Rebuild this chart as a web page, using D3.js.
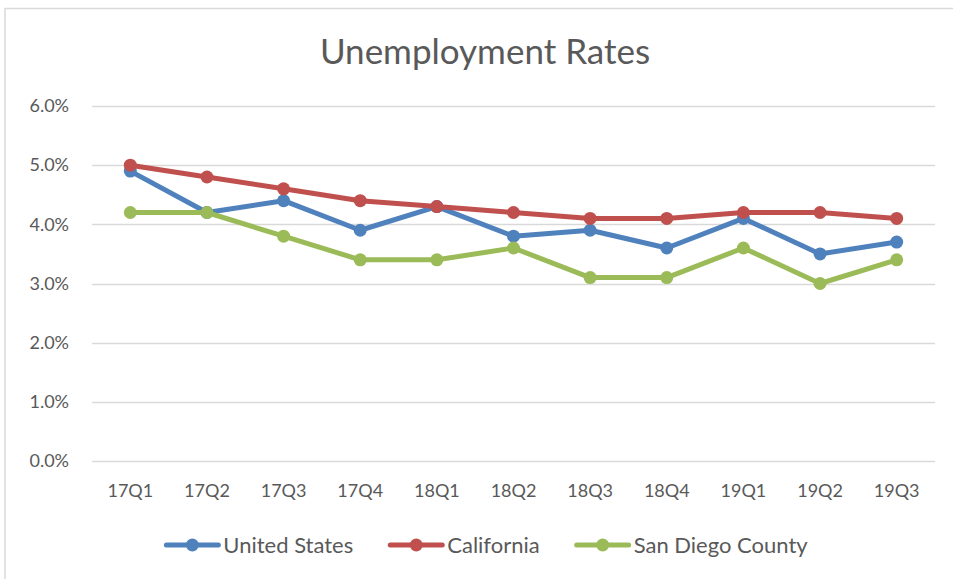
<!DOCTYPE html>
<html>
<head>
<meta charset="utf-8">
<script src="https://cdn.jsdelivr.net/npm/d3@7"></script>
<style>
  html, body { margin: 0; padding: 0; background: #fff; }
  svg { display: block; font-family: Lato, "Noto Sans", sans-serif; }
</style>
</head>
<body>
<svg id="chart" width="953" height="579"></svg>
<script>
const categories = ["17Q1","17Q2","17Q3","17Q4","18Q1","18Q2","18Q3","18Q4","19Q1","19Q2","19Q3"];
const unitedStates = [4.9, 4.2, 4.4, 3.9, 4.3, 3.8, 3.9, 3.6, 4.1, 3.5, 3.7];
const california   = [5.0, 4.8, 4.6, 4.4, 4.3, 4.2, 4.1, 4.1, 4.2, 4.2, 4.1];
const sanDiego     = [4.2, 4.2, 3.8, 3.4, 3.4, 3.6, 3.1, 3.1, 3.6, 3.0, 3.4];
const yTicks = [0, 1, 2, 3, 4, 5, 6];
const seriesNames = ["United States", "California", "San Diego County"];
const seriesColors = ["#4f81bd", "#c0504d", "#9bbb59"];
const titleText = "Unemployment Rates";

const series = [unitedStates, california, sanDiego].map((vals, i) => ({
  name: seriesNames[i], color: seriesColors[i], values: vals
}));

const svg = d3.select("#chart");
const W = 953, H = 579;
const FONT = "Lato, 'Noto Sans', sans-serif";

// chart frame border
svg.append("path")
  .attr("d", `M5,${H} L5,8.5 L${W},8.5`)
  .attr("fill", "none").attr("stroke", "#d9d9d9").attr("stroke-width", 1.5);

const plot = { left: 92, right: 935, top: 106, bottom: 461 };

const x = d3.scaleBand().domain(categories).range([plot.left, plot.right]);
const y = d3.scaleLinear().domain([0, 6]).range([plot.bottom, plot.top]);

// title
svg.append("text")
  .attr("x", 485).attr("y", 64)
  .attr("text-anchor", "middle")
  .attr("font-size", 35).attr("fill", "#595959")
  .text(titleText);

// gridlines
svg.append("g").selectAll("line").data(yTicks).join("line")
  .attr("x1", plot.left).attr("x2", plot.right)
  .attr("y1", d => Math.round(y(d)) + 0.5).attr("y2", d => Math.round(y(d)) + 0.5)
  .attr("stroke", "#d9d9d9").attr("stroke-width", 1.5);

// y axis labels
const yAxis = d3.axisLeft(y).tickValues(yTicks).tickFormat(d => d.toFixed(1) + "%").tickSize(0).tickPadding(0);
const yg = svg.append("g").attr("transform", `translate(69,0)`).call(yAxis);
yg.select(".domain").remove();
yg.selectAll("text").attr("font-size", 18).attr("fill", "#595959").attr("font-family", FONT);

// x axis labels
const xAxis = d3.axisBottom(x).tickSize(0).tickPadding(0);
const xg = svg.append("g").attr("transform", `translate(0,484)`).call(xAxis);
xg.select(".domain").remove();
xg.selectAll("text").attr("font-size", 18).attr("fill", "#595959").attr("font-family", FONT);

const cx = d => x(d) + x.bandwidth() / 2;
const line = d3.line().x((d, i) => cx(categories[i])).y(d => y(d));

const sg = svg.append("g").selectAll("g").data(series).join("g");
sg.append("path")
  .attr("d", d => line(d.values))
  .attr("fill", "none").attr("stroke", d => d.color)
  .attr("stroke-width", 5).attr("stroke-linejoin", "round").attr("stroke-linecap", "round");
sg.selectAll("circle").data(d => d.values.map((v, i) => ({ v, i, color: d.color }))).join("circle")
  .attr("cx", d => cx(categories[d.i])).attr("cy", d => y(d.v))
  .attr("r", 6.5).attr("fill", d => d.color);

// legend
const legend = svg.append("g");
const items = legend.selectAll("g").data(series).join("g");
items.append("line").attr("x1", 2).attr("x2", 54).attr("y1", 0).attr("y2", 0)
  .attr("stroke", d => d.color).attr("stroke-width", 5).attr("stroke-linecap", "round");
items.append("circle").attr("cx", 28).attr("cy", 0).attr("r", 6.5).attr("fill", d => d.color);
items.append("text").attr("x", 59).attr("y", 7.5)
  .attr("font-size", 22).attr("fill", "#595959").text(d => d.name);

let offsets = [], pos = 0;
items.each(function () {
  offsets.push(pos);
  const w = d3.select(this).select("text").node().getComputedTextLength();
  pos += 59 + w + 35;
});
const total = pos - 35;
const startX = 486 - total / 2;
items.attr("transform", (d, i) => `translate(${startX + offsets[i]},545)`);
</script>
</body>
</html>
